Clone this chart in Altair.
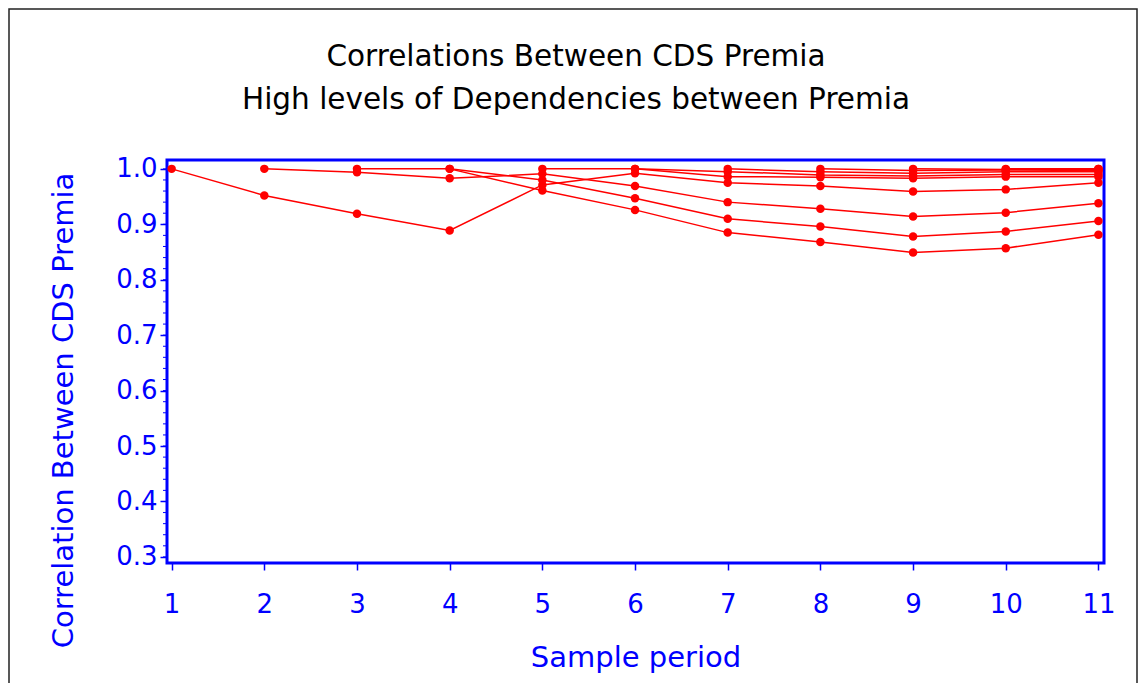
import altair as alt
import pandas as pd

periods = list(range(1, 12))

# one series per starting period
s1 = [1.000, 0.952, 0.919, 0.889, 0.971, 0.992, 0.975, 0.969, 0.959, 0.963, 0.975]
s2 = [None, 1.000, 0.994, 0.983, 0.991, 0.969, 0.940, 0.928, 0.914, 0.921, 0.938]
s3 = [None, None, 1.000, 1.000, 0.980, 0.947, 0.910, 0.896, 0.878, 0.887, 0.906]
s4 = [None, None, None, 1.000, 0.961, 0.926, 0.885, 0.868, 0.849, 0.857, 0.881]
s5 = [None, None, None, None, 1.000, 1.000, 0.986, 0.985, 0.983, 0.986, 0.986]
s6 = [None, None, None, None, None, 1.000, 0.995, 0.989, 0.987, 0.990, 0.990]
s7 = [None, None, None, None, None, None, 1.000, 0.995, 0.992, 0.995, 0.995]
s8 = [None, None, None, None, None, None, None, 1.000, 0.997, 0.998, 0.997]
s9 = [None, None, None, None, None, None, None, None, 1.000, 0.999, 0.999]
s10 = [None, None, None, None, None, None, None, None, None, 1.000, 1.000]
s11 = [None, None, None, None, None, None, None, None, None, None, 1.000]

series = [s1, s2, s3, s4, s5, s6, s7, s8, s9, s10, s11]

y_major = [0.3, 0.4, 0.5, 0.6, 0.7, 0.8, 0.9, 1.0]
y_minor = [0.30, 0.32, 0.34, 0.36, 0.38, 0.40, 0.42, 0.44, 0.46, 0.48,
           0.50, 0.52, 0.54, 0.56, 0.58, 0.60, 0.62, 0.64, 0.66, 0.68,
           0.70, 0.72, 0.74, 0.76, 0.78, 0.80, 0.82, 0.84, 0.86, 0.88,
           0.90, 0.92, 0.94, 0.96, 0.98, 1.00]

title_lines = ["Correlations Between CDS Premia", "High levels of Dependencies between Premia"]

rows = []
for k, s in enumerate(series, start=1):
    for p, v in zip(periods, s):
        if v is not None:
            rows.append({"series": k, "period": p, "value": v})
df = pd.DataFrame(rows)
minor_df = pd.DataFrame({"v": y_minor})
one_df = pd.DataFrame({"a": [0]})

BLUE = "#0000FF"
RED = "#FF0000"
FONT = "DejaVu Sans"

xscale = alt.Scale(domain=[0.95, 11.06], nice=False, zero=False)
yscale = alt.Scale(domain=[0.289, 1.016], nice=False, zero=False)

xaxis = alt.Axis(values=periods, format="d", title="Sample period", domain=False, grid=False,
                 tickColor=BLUE, tickSize=7, tickWidth=1.5, labelColor=BLUE,
                 labelFont=FONT, labelFontSize=26, labelPadding=21,
                 titleColor=BLUE, titleFont=FONT, titleFontSize=29,
                 titleFontWeight="normal", titlePadding=26)
yaxis = alt.Axis(values=y_major, format=".1f", title="Correlation Between CDS Premia",
                 domain=False, grid=False, tickColor=BLUE, tickSize=7, tickWidth=1.5,
                 labelColor=BLUE, labelFont=FONT, labelFontSize=26, labelPadding=3,
                 titleColor=BLUE, titleFont=FONT, titleFontSize=29,
                 titleFontWeight="normal", titleX=-104, titleY=250,
                 titleAngle=270, titleAlign="center", titleBaseline="middle")

base = alt.Chart(df)
lines = base.mark_line(color=RED, strokeWidth=1.5).encode(
    x=alt.X("period:Q", scale=xscale, axis=xaxis),
    y=alt.Y("value:Q", scale=yscale, axis=yaxis),
    detail="series:N",
    order="period:Q",
)
points = base.mark_circle(color=RED, opacity=1, size=72).encode(
    x=alt.X("period:Q", scale=xscale),
    y=alt.Y("value:Q", scale=yscale),
)
minor = alt.Chart(minor_df).mark_rule(color=BLUE, strokeWidth=1).encode(
    y=alt.Y("v:Q", scale=yscale),
    x=alt.value(-4),
    x2=alt.value(0),
)
outer = alt.Chart(one_df).mark_rect(fill=None, stroke="#222222", strokeWidth=1.5).encode(
    x=alt.value(-158), x2=alt.value(970), y=alt.value(-151), y2=alt.value(600)
)
t1 = alt.Chart(one_df).mark_text(font=FONT, fontSize=29.5, color="black",
                                 align="center", baseline="middle").encode(
    x=alt.value(409), y=alt.value(-103), text=alt.value(title_lines[0])
)
t2 = alt.Chart(one_df).mark_text(font=FONT, fontSize=29.5, color="black",
                                 align="center", baseline="middle").encode(
    x=alt.value(409), y=alt.value(-60), text=alt.value(title_lines[1])
)

chart = alt.layer(outer, t1, t2, minor, lines, points).properties(
    width=937,
    height=403,
    background="white",
    autosize=alt.AutoSizeParams(type="none"),
    padding={"left": 159, "top": 152, "right": 36, "bottom": 120},
).configure_view(stroke=BLUE, strokeWidth=3)

chart.save("out.html", embed_options={"renderer": "svg", "actions": False})
